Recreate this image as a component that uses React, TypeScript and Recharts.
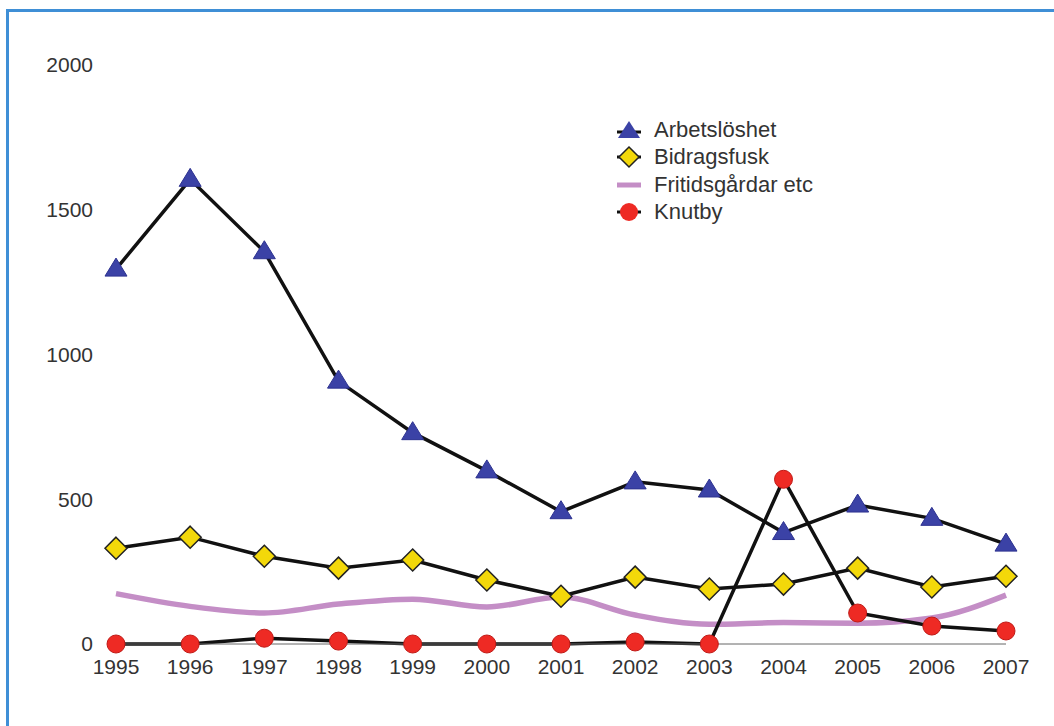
import React from 'react';
import { LineChart, Line, XAxis, YAxis, Legend } from 'recharts';

const years = ['1995', '1996', '1997', '1998', '1999', '2000', '2001', '2002', '2003', '2004', '2005', '2006', '2007'];
const arbetsloshet = [1295, 1605, 1355, 908, 730, 598, 457, 560, 532, 385, 480, 434, 345];
const bidragsfusk = [331, 369, 303, 262, 290, 221, 165, 231, 190, 207, 262, 197, 234];
const fritidsgardar = [174, 130, 107, 138, 155, 128, 162, 100, 68, 74, 72, 90, 169];
const knutby = [0, 0, 20, 10, 0, 0, 0, 7, 0, 569, 107, 62, 45];
const yTicks = [0, 500, 1000, 1500, 2000];

const data = years.map((year, i) => ({
  year,
  arbetsloshet: arbetsloshet[i],
  bidragsfusk: bidragsfusk[i],
  fritidsgardar: fritidsgardar[i],
  knutby: knutby[i],
}));

const FONT = '"Liberation Sans", Arial, Helvetica, sans-serif';
const BLUE = '#3b42a6';
const YELLOW = '#f3d80a';
const PINK = '#c48ec6';
const RED = '#ee2a24';

const Triangle = (props: any) => {
  const { cx, cy } = props;
  if (cx == null || cy == null) return null;
  return <polygon points={`${cx},${cy - 11} ${cx - 11},${cy + 7} ${cx + 11},${cy + 7}`} fill={BLUE} stroke="#2d3290" strokeWidth={1} />;
};

const Diamond = (props: any) => {
  const { cx, cy } = props;
  if (cx == null || cy == null) return null;
  return <polygon points={`${cx},${cy - 11} ${cx + 11},${cy} ${cx},${cy + 11} ${cx - 11},${cy}`} fill={YELLOW} stroke="#222" strokeWidth={1.5} />;
};

const Circle = (props: any) => {
  const { cx, cy } = props;
  if (cx == null || cy == null) return null;
  return <circle cx={cx} cy={cy} r={9} fill={RED} stroke="#c01a16" strokeWidth={1} />;
};

const legendItems = [
  { label: 'Arbetslöshet', icon: 'tri' },
  { label: 'Bidragsfusk', icon: 'dia' },
  { label: 'Fritidsgårdar etc', icon: 'line' },
  { label: 'Knutby', icon: 'circle' },
];

function LegendIcon({ icon }: { icon: string }) {
  return (
    <svg width={30} height={24} style={{ marginRight: 10 }}>
      {icon === 'tri' && (
        <>
          <line x1={3} y1={14} x2={27} y2={14} stroke="#111" strokeWidth={3} />
          <polygon points="15,3 4,20 26,20" fill={BLUE} />
        </>
      )}
      {icon === 'dia' && (
        <>
          <line x1={3} y1={12} x2={27} y2={12} stroke="#111" strokeWidth={3} />
          <polygon points="15,2 25,12 15,22 5,12" fill={YELLOW} stroke="#222" strokeWidth={1.5} />
        </>
      )}
      {icon === 'line' && <line x1={3} y1={12} x2={27} y2={12} stroke={PINK} strokeWidth={5} />}
      {icon === 'circle' && (
        <>
          <line x1={3} y1={12} x2={27} y2={12} stroke="#111" strokeWidth={3} />
          <circle cx={15} cy={12} r={9} fill={RED} />
        </>
      )}
    </svg>
  );
}

const renderLegend = () => (
  <div style={{ fontFamily: FONT, fontSize: 22, color: '#333' }}>
    {legendItems.map((it) => (
      <div key={it.label} style={{ display: 'flex', alignItems: 'center', height: 27.5 }}>
        <LegendIcon icon={it.icon} />
        <span>{it.label}</span>
      </div>
    ))}
  </div>
);

export default function App() {
  return (
    <div style={{ position: 'fixed', left: 0, top: 0, width: 1054, height: 726, background: '#fff' }}>
      <div
        style={{
          position: 'absolute',
          left: 6,
          top: 9,
          right: 0,
          bottom: 0,
          borderTop: '3px solid #3f8fd6',
          borderLeft: '3px solid #3f8fd6',
        }}
      />
      <LineChart
        width={1054}
        height={726}
        data={data}
        margin={{ top: 65, right: 48, left: 56, bottom: 42 }}
        style={{ position: 'absolute', left: 0, top: 0 }}
      >
        <XAxis
          dataKey="year"
          height={40}
          axisLine={{ stroke: '#666', strokeWidth: 1 }}
          tickLine={false}
          tickMargin={9}
          interval={0}
          tick={{ fill: '#333', fontSize: 21, fontFamily: FONT }}
        />
        <YAxis
          width={60}
          domain={[0, 2000]}
          ticks={yTicks}
          axisLine={false}
          tickLine={false}
          tickMargin={17}
          tick={{ fill: '#333', fontSize: 21, fontFamily: FONT }}
        />
        <Legend
          layout="vertical"
          verticalAlign="middle"
          align="center"
          content={renderLegend}
          wrapperStyle={{ left: 614, top: 116, width: 260 }}
        />
        <Line
          dataKey="fritidsgardar"
          type="monotone"
          stroke={PINK}
          strokeWidth={5.5}
          dot={false}
          isAnimationActive={false}
        />
        <Line
          dataKey="knutby"
          type="linear"
          stroke="#111"
          strokeWidth={3.5}
          dot={<Circle />}
          isAnimationActive={false}
        />
        <Line
          dataKey="bidragsfusk"
          type="linear"
          stroke="#111"
          strokeWidth={3.5}
          dot={<Diamond />}
          isAnimationActive={false}
        />
        <Line
          dataKey="arbetsloshet"
          type="linear"
          stroke="#111"
          strokeWidth={3.5}
          dot={<Triangle />}
          isAnimationActive={false}
        />
      </LineChart>
    </div>
  );
}
